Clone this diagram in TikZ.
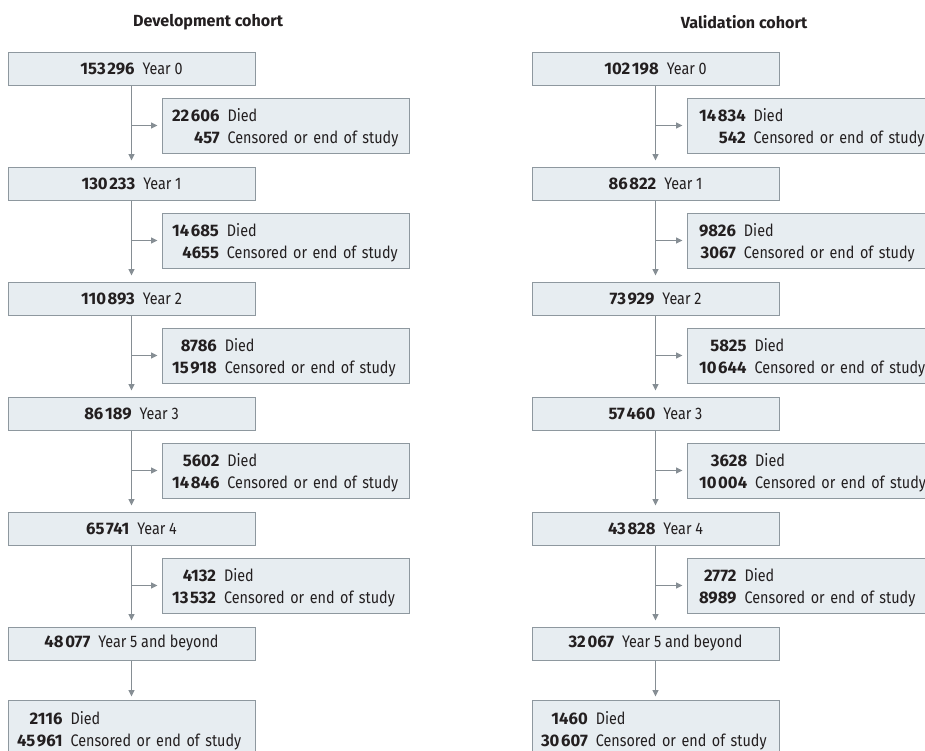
\documentclass[tikz,border=0pt]{standalone}
\usepackage{fontspec}
\setmainfont{Fira Sans}[FakeStretch=0.86, BoldFeatures={FakeStretch=1.0}]
\usetikzlibrary{arrows.meta}
\definecolor{boxfill}{HTML}{E7EDF1}
\definecolor{boxline}{HTML}{8E989F}
\definecolor{conn}{HTML}{868E94}
\definecolor{ink}{HTML}{231F20}
\newcommand\ts{\kern1.7pt}
\newcommand\yr[2]{\textbf{#1}\hspace{8pt}#2}
\newcommand\pair[5][0pt]{\raisebox{-#1}[\height][\depth]{\begin{tabular}{@{}r@{\hspace{8pt}}l@{}}\textbf{#2}&#3\\\textbf{#4}&#5\end{tabular}}}
\begin{document}
\begin{tikzpicture}[x=1pt,y=-1pt,
 every node/.style={text=ink, font=\fontsize{16.7}{22}\selectfont},
 mainbox/.style={draw=boxline, fill=boxfill, line width=1pt, minimum width=247pt, minimum height=33pt, inner sep=0pt},
 sidebox/.style={draw=boxline, fill=boxfill, line width=1pt, minimum height=55pt, text width=227pt, inner xsep=10pt, inner ysep=0pt, align=left},
 endbox/.style={draw=boxline, fill=boxfill, line width=1pt, minimum height=60pt, text width=229pt, inner xsep=9pt, inner ysep=0pt, align=left},
 title/.style={font=\bfseries\fontsize{16.1}{20}\selectfont},
 arr/.style={draw=conn, line width=1.1pt, -{Triangle[length=6.5pt,width=6pt]}, shorten >=6pt},
 harr/.style={arr, shorten >=4pt},
]
\clip (0,0) rectangle (925,750);
\fill[white] (0,0) rectangle (925,750);

% titles
\node[title] (Lt) at (208,22) {Development cohort};
\node[title] (Rt) at (744,22) {Validation cohort};

% ---------------- Development cohort ----------------
\node[mainbox] (Lm0) at (131.5,68.5)  {\yr{153\ts296}{Year 0}};
\node[mainbox] (Lm1) at (131.5,183.5) {\yr{130\ts233}{Year 1}};
\node[mainbox] (Lm2) at (131.5,298.5) {\yr{110\ts893}{Year 2}};
\node[mainbox] (Lm3) at (131.5,413.5) {\yr{86\ts189}{Year 3}};
\node[mainbox] (Lm4) at (131.5,528.5) {\yr{65\ts741}{Year 4}};
\node[mainbox] (Lm5) at (131.5,643.5) {\yr{48\ts077}{Year 5 and beyond}};
\node[endbox]  (Le)  at (131.5,730)   {\pair[1pt]{2116}{Died}{45\ts961}{Censored or end of study}};

\node[sidebox] (Ls0) at (285.5,125.5) {\pair[2.5pt]{22\ts606}{Died}{457}{Censored or end of study}};
\node[sidebox] (Ls1) at (285.5,240.5) {\pair[2.5pt]{14\ts685}{Died}{4655}{Censored or end of study}};
\node[sidebox] (Ls2) at (285.5,355.5) {\pair[2.5pt]{8786}{Died}{15\ts918}{Censored or end of study}};
\node[sidebox] (Ls3) at (285.5,470.5) {\pair[2.5pt]{5602}{Died}{14\ts846}{Censored or end of study}};
\node[sidebox] (Ls4) at (285.5,585.5) {\pair[2.5pt]{4132}{Died}{13\ts532}{Censored or end of study}};

% ---------------- Validation cohort ----------------
\node[mainbox] (Rm0) at (655.5,68.5)  {\yr{102\ts198}{Year 0}};
\node[mainbox] (Rm1) at (655.5,183.5) {\yr{86\ts822}{Year 1}};
\node[mainbox] (Rm2) at (655.5,298.5) {\yr{73\ts929}{Year 2}};
\node[mainbox] (Rm3) at (655.5,413.5) {\yr{57\ts460}{Year 3}};
\node[mainbox] (Rm4) at (655.5,528.5) {\yr{43\ts828}{Year 4}};
\node[mainbox] (Rm5) at (655.5,643.5) {\yr{32\ts067}{Year 5 and beyond}};
\node[endbox]  (Re)  at (655.5,730) {\pair[1pt]{1460}{Died}{30\ts607}{Censored or end of study}};

\node[sidebox, inner xsep=12pt, text width=223pt] (Rs0) at (810.5,125.5) {\pair[2.5pt]{14\ts834}{Died}{542}{Censored or end of study}};
\node[sidebox, inner xsep=12pt, text width=223pt] (Rs1) at (810.5,240.5) {\pair[2.5pt]{9826}{Died}{3067}{Censored or end of study}};
\node[sidebox, inner xsep=12pt, text width=223pt] (Rs2) at (810.5,355.5) {\pair[2.5pt]{5825}{Died}{10\ts644}{Censored or end of study}};
\node[sidebox, inner xsep=12pt, text width=223pt] (Rs3) at (810.5,470.5) {\pair[2.5pt]{3628}{Died}{10\ts004}{Censored or end of study}};
\node[sidebox, inner xsep=12pt, text width=223pt] (Rs4) at (810.5,585.5) {\pair[2.5pt]{2772}{Died}{8989}{Censored or end of study}};

% ---------------- connectors ----------------
\foreach \a/\b in {0/1,1/2,2/3,3/4,4/5}{
  \draw[arr] (Lm\a) -- (Lm\b);
  \draw[harr] (Ls\a.west -| Lm\a) -- (Ls\a.west);
  \draw[arr] (Rm\a) -- (Rm\b);
  \draw[harr] (Rs\a.west -| Rm\a) -- (Rs\a.west);
}
\draw[arr, shorten >=3pt] (Lm5) -- (Le.north -| Lm5);
\draw[arr, shorten >=3pt] (Rm5) -- (Re.north -| Rm5);
\end{tikzpicture}
\end{document}
